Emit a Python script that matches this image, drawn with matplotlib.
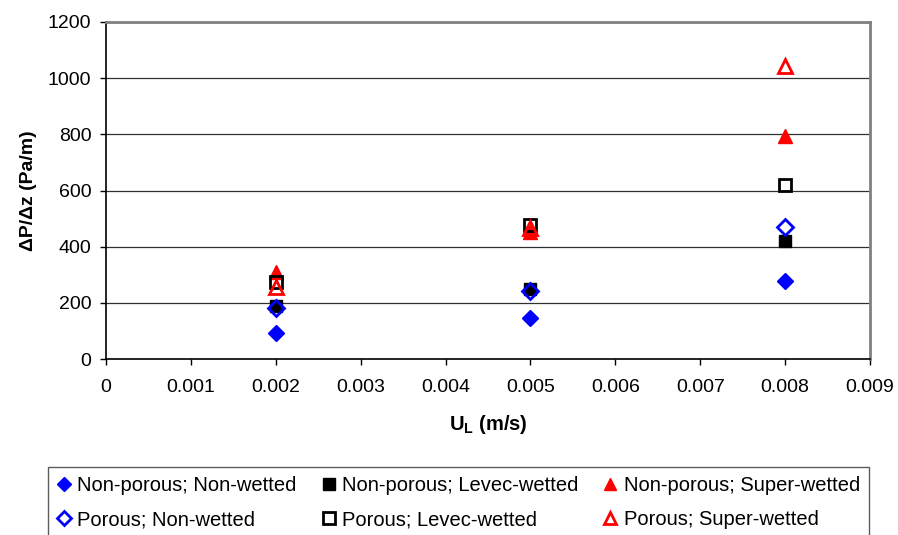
import matplotlib
matplotlib.use("Agg")
import matplotlib.pyplot as plt
from matplotlib.ticker import MultipleLocator

plt.rcParams['font.family'] = ['Liberation Sans', 'DejaVu Sans']

u_l = [0.002, 0.005, 0.008]
np_nonwetted = [93, 146, 278]
np_levec = [190, 250, 420]
np_super = [310, 452, 795]
p_nonwetted = [182, 242, 470]
p_levec = [274, 477, 620]
p_super = [256, 466, 1045]

labels = ["Non-porous; Non-wetted", "Non-porous; Levec-wetted", "Non-porous; Super-wetted",
          "Porous; Non-wetted", "Porous; Levec-wetted", "Porous; Super-wetted"]

fig = plt.figure(figsize=(8.98, 5.35), dpi=100)
ax = fig.add_axes([106/898, 1-359/535, (870-106)/898, (359-22)/535])

ms = 9
h1, = ax.plot(u_l, np_nonwetted, 'D', color='#0000ff', ms=ms*0.85, mec='#0000ff', ls='none')
h2, = ax.plot(u_l, np_levec, 's', color='black', ms=ms, ls='none')
h3, = ax.plot(u_l, np_super, '^', color='#ff0000', ms=ms+1, ls='none')
h4, = ax.plot(u_l, p_nonwetted, 'D', mfc='none', mec='#0000ff', mew=2, ms=ms*0.85, ls='none')
h5, = ax.plot(u_l, p_levec, 's', mfc='none', mec='black', mew=2, ms=ms, ls='none')
h6, = ax.plot(u_l, p_super, '^', mfc='none', mec='#ff0000', mew=2, ms=ms+1, ls='none')

ax.set_xlim(0, 0.009)
ax.set_ylim(0, 1200)
ax.xaxis.set_major_locator(MultipleLocator(0.001))
ax.yaxis.set_major_locator(MultipleLocator(200))
ax.xaxis.set_major_formatter(plt.FuncFormatter(lambda v, p: "0" if abs(v) < 1e-12 else f"{v:.3f}"))
ax.yaxis.grid(True, color='#303030', lw=0.9)
ax.set_axisbelow(True)
for s in ['top', 'right']:
    ax.spines[s].set_color('#808080')
    ax.spines[s].set_linewidth(2)
for s in ['left', 'bottom']:
    ax.spines[s].set_color('black')
    ax.spines[s].set_linewidth(1.2)
ax.tick_params(direction='out', length=4.5, width=1, labelsize=14, colors='black')
ax.tick_params(axis='x', pad=10)
ax.tick_params(axis='y', pad=6)

ax.set_ylabel('ΔP/Δz (Pa/m)', fontsize=14, fontweight='bold', labelpad=8)
ax.set_xlabel('U$_\\mathregular{L}$ (m/s)', fontsize=14.5, fontweight='bold', labelpad=12)

handles = [h1, h4, h2, h5, h3, h6]
leg_labels = [labels[0], labels[3], labels[1], labels[4], labels[2], labels[5]]
leg = fig.legend(handles, leg_labels, loc='upper left', bbox_to_anchor=(48/898, 1-467/535),
                 borderaxespad=0,
                 ncol=3, fontsize=14.5, frameon=True, fancybox=False, edgecolor='#333333',
                 handlelength=0.7, handletextpad=0.3, columnspacing=1.25, labelspacing=0.75,
                 borderpad=0.45, markerscale=0.9)
leg.get_frame().set_linewidth(1)

fig.savefig('out.png', dpi=100)
